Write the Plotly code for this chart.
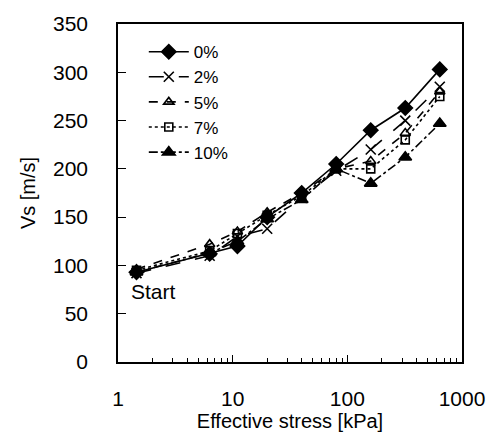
import plotly.graph_objects as go

stress = [1.45, 6.3, 11, 20, 40, 80, 160, 320, 640]
vs_0 = [93, 112, 120, 150, 175, 205, 240, 263, 303]
vs_2 = [92, 110, 130, 138, 170, 198, 220, 250, 285]
vs_5 = [96, 122, 135, 155, 175, 200, 208, 237, 280]
vs_7 = [95, 115, 133, 152, 172, 200, 200, 230, 275]
vs_10 = [93, 113, 125, 148, 168, 200, 185, 212, 247]
names = ["0%", "2%", "5%", "7%", "10%"]
x_ticks = [1, 10, 100, 1000]
x_minor = [m * d for d in (1, 10, 100) for m in range(2, 10)]
y_ticks = [0, 50, 100, 150, 200, 250, 300, 350]

series = [
    (vs_0, "solid", "diamond", 11),
    (vs_2, "longdash", "x-thin-open", 10),
    (vs_5, "dash", "triangle-up-open", 9),
    (vs_7, "dot", "square-open", 8),
    (vs_10, "dashdot", "triangle-up", 11),
]

fig = go.Figure()
for name, (vals, dash, sym, sz) in zip(names, series):
    fig.add_trace(go.Scatter(
        x=stress, y=vals, name=name, mode="lines+markers",
        line=dict(color="black", width=1.6, dash=dash),
        marker=dict(symbol=sym, size=sz, color="black",
                    line=dict(color="black", width=1.6)),
    ))

fig.add_annotation(x=0.0, y=73, xref="x", yref="y", text="Start",
                   showarrow=False, xanchor="left", xshift=11,
                   font=dict(size=21, color="black", family="Liberation Sans, Arial"))

fig.update_layout(
    width=497, height=437,
    margin=dict(l=118, r=28, t=19, b=75),
    paper_bgcolor="white", plot_bgcolor="white",
    font=dict(family="Liberation Sans, Arial", color="black", size=21),
    showlegend=True,
    legend=dict(x=0.075, y=0.97, xanchor="left", yanchor="top",
                bgcolor="rgba(0,0,0,0)", font=dict(size=17),
                tracegroupgap=0, itemwidth=40),
    xaxis=dict(type="log", range=[0, 3], showgrid=False,
               showline=True, linecolor="black", linewidth=1.5, mirror=True,
               ticks="inside", ticklen=7, tickcolor="black",
               tickvals=x_ticks, ticktext=[str(v) for v in x_ticks],
               ticklabelstandoff=17,
               minor=dict(ticks="inside", ticklen=4, tickcolor="black",
                          tickvals=x_minor, showgrid=False),
               title=dict(text="Effective stress [kPa]", font=dict(size=20), standoff=0),
               zeroline=False),
    yaxis=dict(range=[0, 350], showgrid=False,
               showline=True, linecolor="black", linewidth=1.5, mirror=True,
               ticks="inside", ticklen=8, tickcolor="black",
               tickvals=y_ticks, ticklabelstandoff=24,
               title=dict(text="Vs [m/s]", font=dict(size=20), standoff=12),
               zeroline=False),
)

fig.write_html("out.html")
